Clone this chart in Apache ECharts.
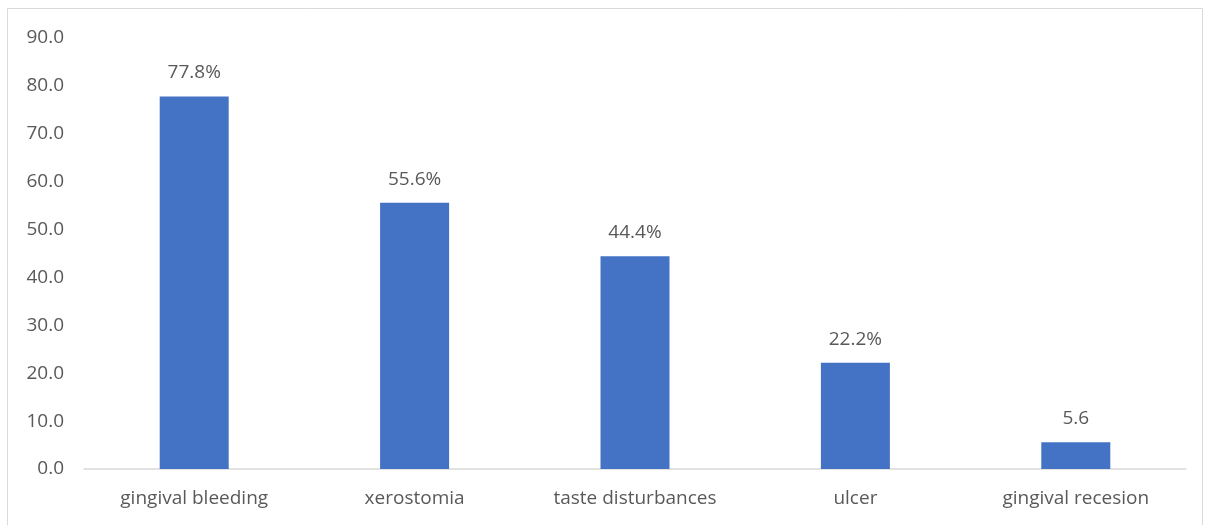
<!DOCTYPE html>
<html>
<head>
<meta charset="utf-8">
<script src="https://cdn.jsdelivr.net/npm/echarts@6/dist/echarts.min.js"></script>
<style>
  html, body { margin: 0; padding: 0; background: #fff; }
  #chart { width: 1207px; height: 525px; }
</style>
</head>
<body>
<div id="chart"></div>
<script>
// Oral side effects, share of patients (%)
const categories = ['gingival bleeding', 'xerostomia', 'taste disturbances', 'ulcer', 'gingival recesion'];
const values = [77.8, 55.6, 44.4, 22.2, 5.6];
const valueLabels = ['77.8%', '55.6%', '44.4%', '22.2%', '5.6'];
const yTicks = { min: 0, max: 90, interval: 10 };

const textColor = '#595959';
const font = '"Open Sans", "Noto Sans", sans-serif';

const chart = echarts.init(document.getElementById('chart'), null, { renderer: 'canvas' });
chart.setOption({
  animation: false,
  backgroundColor: '#ffffff',
  graphic: [{
    type: 'rect',
    shape: { x: 7.5, y: 8.5, width: 1195, height: 540 },
    style: { fill: 'none', stroke: '#d9d9d9', lineWidth: 1 },
    silent: true
  }],
  grid: { left: 84, right: 21, top: 38, bottom: 56, containLabel: false },
  xAxis: {
    type: 'category',
    data: categories,
    axisLine: { lineStyle: { color: '#d9d9d9', width: 1.5 } },
    axisTick: { show: false },
    axisLabel: { color: textColor, fontFamily: font, fontSize: 19, margin: 20 }
  },
  yAxis: {
    type: 'value',
    min: yTicks.min,
    max: yTicks.max,
    interval: yTicks.interval,
    splitLine: { show: false },
    axisLine: { show: false },
    axisTick: { show: false },
    axisLabel: {
      color: textColor, fontFamily: font, fontSize: 19, margin: 20,
      formatter: v => v.toFixed(1)
    }
  },
  series: [{
    type: 'bar',
    data: values,
    barWidth: 69,
    itemStyle: { color: '#4472c4' },
    label: {
      show: true,
      position: 'top',
      distance: 14,
      color: textColor,
      fontFamily: font,
      fontSize: 19,
      formatter: p => valueLabels[p.dataIndex]
    }
  }]
});
</script>
</body>
</html>
